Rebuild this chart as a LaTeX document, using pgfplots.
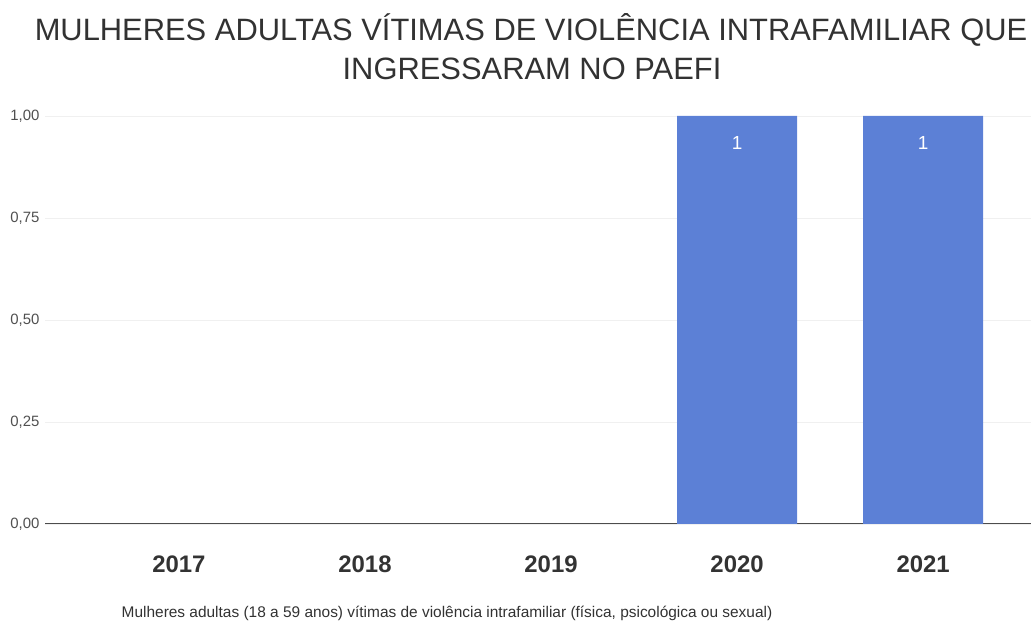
\documentclass[border=0pt]{standalone}
\usepackage{fontspec}
\setmainfont{Liberation Sans}
\usepackage{pgfplots}
\pgfplotsset{compat=1.18}
\definecolor{barblue}{RGB}{92,128,214}
\definecolor{ticktxt}{RGB}{80,80,80}
\definecolor{titletxt}{RGB}{50,50,50}
\definecolor{gridc}{RGB}{240,240,240}

\begin{document}
\begin{tikzpicture}[x=1bp,y=1bp]
\useasboundingbox (0,0) rectangle (1031,632);
\begin{axis}[
    at={(45bp,108bp)}, anchor=south west,
    scale only axis, width=986bp, height=408bp,
    xmin=-0.72, xmax=4.58,
    ymin=0, ymax=1,
    axis x line*=bottom,
    axis y line*=left,
    y axis line style={draw=none},
    x axis line style={draw=black!70, line width=1pt, -},
    xtick={0,1,2,3,4},
    xticklabels={2017,2018,2019,2020,2021},
    xtick style={draw=none},
    ytick style={draw=none},
    xticklabel style={font=\bfseries\fontsize{24}{28}\selectfont, text=black!80, anchor=base, yshift=-44bp},
    ytick={0,0.25,0.5,0.75,1},
    ymajorgrids=true,
    grid style={draw=gridc, line width=0.8pt},
    yticklabel style={font=\fontsize{15}{17}\selectfont, text=ticktxt, xshift=-2bp,
      /pgf/number format/.cd, fixed, fixed zerofill, precision=2, use comma, assume math mode=true},
    ybar, bar width=0.645,
    nodes near coords,
    every node near coord/.append style={font=\fontsize{19}{21}\selectfont, text=white, anchor=base, yshift=-34bp,
      /pgf/number format/assume math mode=true},
]
\addplot[fill=barblue, draw=none] coordinates {(3,1) (4,1)};
\end{axis}
\node[font=\fontsize{31}{36}\selectfont, text=titletxt, anchor=base] at (531,591) {MULHERES ADULTAS VÍTIMAS DE VIOLÊNCIA INTRAFAMILIAR QUE};
\node[font=\fontsize{31}{36}\selectfont, text=titletxt, anchor=base] at (532,552) {INGRESSARAM NO PAEFI};
\node[font=\fontsize{15.5}{18}\selectfont, text=titletxt, anchor=base] at (447,14) {Mulheres adultas (18 a 59 anos) vítimas de violência intrafamiliar (física, psicológica ou sexual)};
\end{tikzpicture}
\end{document}
